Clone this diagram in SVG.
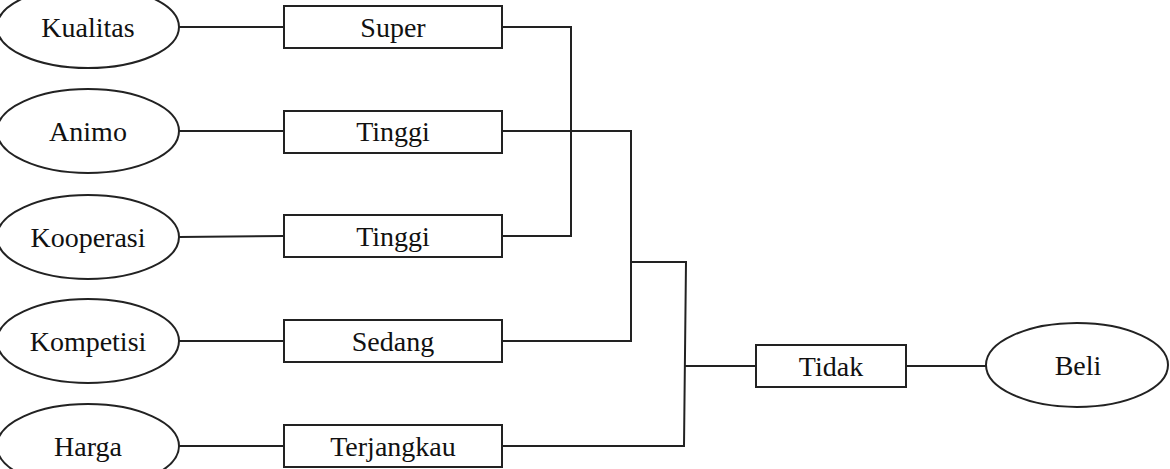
<svg xmlns="http://www.w3.org/2000/svg" width="1170" height="469" viewBox="0 0 1170 469">
<style>
.shape{fill:#fff;stroke:#222;stroke-width:2}
.lbl{font-family:"Liberation Serif","Times New Roman",serif;font-size:28px;fill:#111;text-anchor:middle}
.conn{fill:none;stroke:#222;stroke-width:2}
</style>
<rect width="1170" height="469" fill="#fff"/>
<g id="connectors">
<line class="conn" x1="179" y1="27" x2="284" y2="27"/>
<line class="conn" x1="179" y1="131" x2="284" y2="131"/>
<line class="conn" x1="179" y1="237" x2="284" y2="236"/>
<line class="conn" x1="179" y1="341" x2="284" y2="341"/>
<line class="conn" x1="179" y1="446" x2="284" y2="446"/>
<polyline class="conn" points="502,27 571,27 571,236 502,236"/>
<polyline class="conn" points="502,131 631,131 631,341 502,341"/>
<polyline class="conn" points="631,262 686,262 684,446 502,446"/>
<line class="conn" x1="685" y1="366" x2="756" y2="366"/>
<line class="conn" x1="906" y1="366" x2="986" y2="366"/>
</g>
<g id="kualitas"><ellipse class="shape" cx="88" cy="27" rx="91" ry="41"/><text class="lbl" x="88" y="37">Kualitas</text></g>
<g id="animo"><ellipse class="shape" cx="88" cy="131" rx="91" ry="42"/><text class="lbl" x="88" y="141">Animo</text></g>
<g id="kooperasi"><ellipse class="shape" cx="88" cy="237" rx="91" ry="42"/><text class="lbl" x="88" y="247">Kooperasi</text></g>
<g id="kompetisi"><ellipse class="shape" cx="88" cy="341" rx="91" ry="42"/><text class="lbl" x="88" y="351">Kompetisi</text></g>
<g id="harga"><ellipse class="shape" cx="88" cy="446" rx="91" ry="42"/><text class="lbl" x="88" y="456">Harga</text></g>
<g id="super"><rect class="shape" x="284" y="6" width="218" height="42"/><text class="lbl" x="393" y="37">Super</text></g>
<g id="tinggi1"><rect class="shape" x="284" y="111" width="218" height="42"/><text class="lbl" x="393" y="141">Tinggi</text></g>
<g id="tinggi2"><rect class="shape" x="284" y="215" width="218" height="42"/><text class="lbl" x="393" y="246">Tinggi</text></g>
<g id="sedang"><rect class="shape" x="284" y="320" width="218" height="42"/><text class="lbl" x="393" y="351">Sedang</text></g>
<g id="terjangkau"><rect class="shape" x="284" y="425" width="218" height="42"/><text class="lbl" x="393" y="456">Terjangkau</text></g>
<g id="tidak"><rect class="shape" x="756" y="345" width="150" height="42"/><text class="lbl" x="831" y="376">Tidak</text></g>
<g id="beli"><ellipse class="shape" cx="1077" cy="365" rx="91" ry="42"/><text class="lbl" x="1078" y="375">Beli</text></g>
</svg>
